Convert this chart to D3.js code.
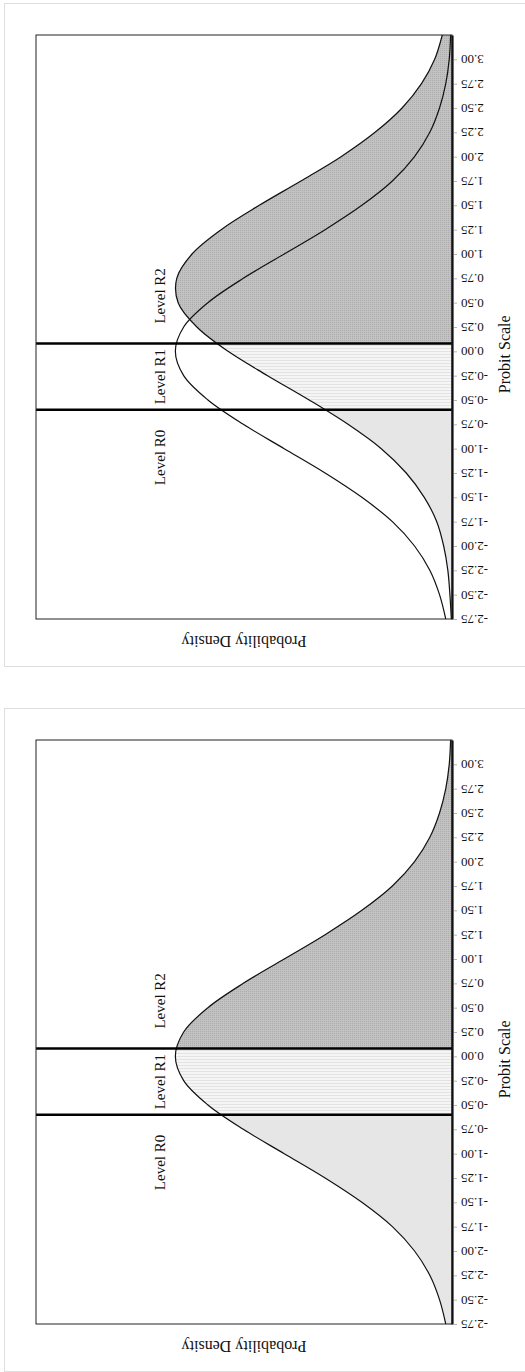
<!DOCTYPE html>
<html>
<head>
<meta charset="utf-8">
<script src="https://cdn.jsdelivr.net/npm/d3@7"></script>
<style>
  body { margin: 0; background: #fff; }
  svg { display: block; }
</style>
</head>
<body>
<div id="chart"></div>
<script>
// probit categories (every 0.25)
const probit = [-2.75, -2.5, -2.25, -2.0, -1.75, -1.5, -1.25, -1.0, -0.75, -0.5, -0.25, 0.0,
  0.25, 0.5, 0.75, 1.0, 1.25, 1.5, 1.75, 2.0, 2.25, 2.5, 2.75, 3.0, 3.25]

const densityBase = [0.009, 0.018, 0.032, 0.054, 0.086, 0.130, 0.183, 0.242, 0.301, 0.352, 0.387, 0.399,
  0.387, 0.352, 0.301, 0.242, 0.183, 0.130, 0.086, 0.054, 0.032, 0.018, 0.009, 0.004, 0.002]

const densityShift = [0.001, 0.003, 0.006, 0.012, 0.022, 0.040, 0.066, 0.102, 0.150, 0.206, 0.266, 0.323,
  0.368, 0.395, 0.397, 0.375, 0.333, 0.278, 0.218, 0.160, 0.111, 0.072, 0.044, 0.025, 0.014]

const tickValues = [-2.75, -2.5, -2.25, -2.0, -1.75, -1.5, -1.25, -1.0, -0.75, -0.5, -0.25, 0.0,
  0.25, 0.5, 0.75, 1.0, 1.25, 1.5, 1.75, 2.0, 2.25, 2.5, 2.75, 3.0]

const thresholds = [-0.6, 0.08]
const levelNames = ['Level R0', 'Level R1', 'Level R2']
const levelAt = [-1.09, -0.26, 0.57]

const panels = [
  {fill: densityShift, outline: densityBase},
  {fill: densityBase, outline: null}
]

const W = 525, H = 1372
const svg = d3.select('#chart').append('svg')
  .attr('width', W).attr('height', H)
  .style('font-family', '"Liberation Serif", "Times New Roman", serif')

const defs = svg.append('defs')

const dots = defs.append('pattern').attr('id', 'dots')
  .attr('patternUnits', 'userSpaceOnUse').attr('width', 2).attr('height', 2)
dots.append('rect').attr('width', 2).attr('height', 2).attr('fill', '#c2c2c2')
dots.append('rect').attr('width', 1).attr('height', 1).attr('fill', '#acacac')

const stripes = defs.append('pattern').attr('id', 'stripes')
  .attr('patternUnits', 'userSpaceOnUse').attr('width', 4).attr('height', 3)
stripes.append('rect').attr('width', 4).attr('height', 3).attr('fill', '#f5f5f5')
stripes.append('rect').attr('width', 4).attr('height', 1).attr('fill', '#e3e3e3')

const regionFills = ['#e6e6e6', 'url(#stripes)', 'url(#dots)']

const x = d3.scaleLinear().domain([0, 0.6]).range([452, 36])

panels.forEach(function(panel, i) {
  const off = i * 705
  const g = svg.append('g').attr('transform', 'translate(0,' + off + ')')

  const y = d3.scaleLinear().domain([-2.75, 3.25]).range([619, 35])

  // outer frame of the panel
  g.append('rect')
    .attr('x', 4.5).attr('y', 3.5)
    .attr('width', 540).attr('height', 663)
    .attr('fill', 'none').attr('stroke', '#dedede')

  const fillData = probit.map((p, k) => ({p: p, v: panel.fill[k]}))

  const area = d3.area()
    .y(d => y(d.p))
    .x0(x(0))
    .x1(d => x(d.v))
    .curve(d3.curveCatmullRom)

  const line = d3.line()
    .y(d => y(d.p))
    .x(d => x(d.v))
    .curve(d3.curveCatmullRom)

  // three level regions
  const bounds = [-2.75].concat(thresholds).concat([3.25])
  for (let r = 0; r < 3; r++) {
    const id = 'clip' + i + '_' + r
    g.append('clipPath').attr('id', id)
      .append('rect')
      .attr('x', x(0.6)).attr('width', x(0) - x(0.6))
      .attr('y', y(bounds[r + 1])).attr('height', y(bounds[r]) - y(bounds[r + 1]))
    g.append('path')
      .datum(fillData)
      .attr('d', area)
      .attr('fill', regionFills[r])
      .attr('clip-path', 'url(#' + id + ')')
  }

  g.append('path')
    .datum(fillData)
    .attr('d', line)
    .attr('fill', 'none')
    .attr('stroke', '#111')
    .attr('stroke-width', 1.2)

  if (panel.outline) {
    g.append('path')
      .datum(probit.map((p, k) => ({p: p, v: panel.outline[k]})))
      .attr('d', line)
      .attr('fill', 'none')
      .attr('stroke', '#111')
      .attr('stroke-width', 1.2)
  }

  g.selectAll('.thr')
    .data(thresholds)
    .enter()
    .append('line')
    .attr('x1', x(0.6)).attr('x2', x(0))
    .attr('y1', d => y(d)).attr('y2', d => y(d))
    .attr('stroke', '#000')
    .attr('stroke-width', 2.6)

  g.append('rect')
    .attr('x', x(0.6)).attr('y', y(3.25))
    .attr('width', x(0) - x(0.6)).attr('height', y(-2.75) - y(3.25))
    .attr('fill', 'none').attr('stroke', '#222').attr('stroke-width', 1)

  const axis = g.append('g')
    .attr('transform', 'translate(' + x(0) + ',0)')
    .call(d3.axisRight(y).tickValues(tickValues).tickFormat(d => d.toFixed(2))
      .tickSizeInner(5).tickSizeOuter(0))
  axis.attr('font-family', null).attr('font-size', null)
  axis.select('.domain').attr('stroke', '#111').attr('stroke-width', 2.2)
  axis.selectAll('.tick line').attr('stroke', '#b5b5b5').attr('x1', 2)
  axis.selectAll('.tick text')
    .attr('x', 9)
    .attr('dy', '0.35em')
    .attr('text-anchor', 'end')
    .attr('transform', 'rotate(180,9,0)')
    .style('font-size', '13px')
    .attr('fill', '#111')

  g.selectAll('.lvl')
    .data(levelNames)
    .enter()
    .append('text')
    .attr('transform', (d, k) => 'translate(' + x(0.414) + ',' + y(levelAt[k]) + ') rotate(-90)')
    .attr('text-anchor', 'middle')
    .style('font-size', '15px')
    .attr('fill', '#111')
    .text(d => d)

  g.append('text')
    .attr('transform', 'translate(510,' + y(-0.03) + ') rotate(-90)')
    .attr('text-anchor', 'middle')
    .style('font-size', '16px')
    .attr('fill', '#111')
    .text('Probit Scale')

  g.append('text')
    .attr('transform', 'translate(' + (x(0.3)) + ',636) rotate(180)')
    .attr('text-anchor', 'middle')
    .style('font-size', '16px')
    .attr('fill', '#111')
    .text('Probability Density')
})
</script>
</body>
</html>
